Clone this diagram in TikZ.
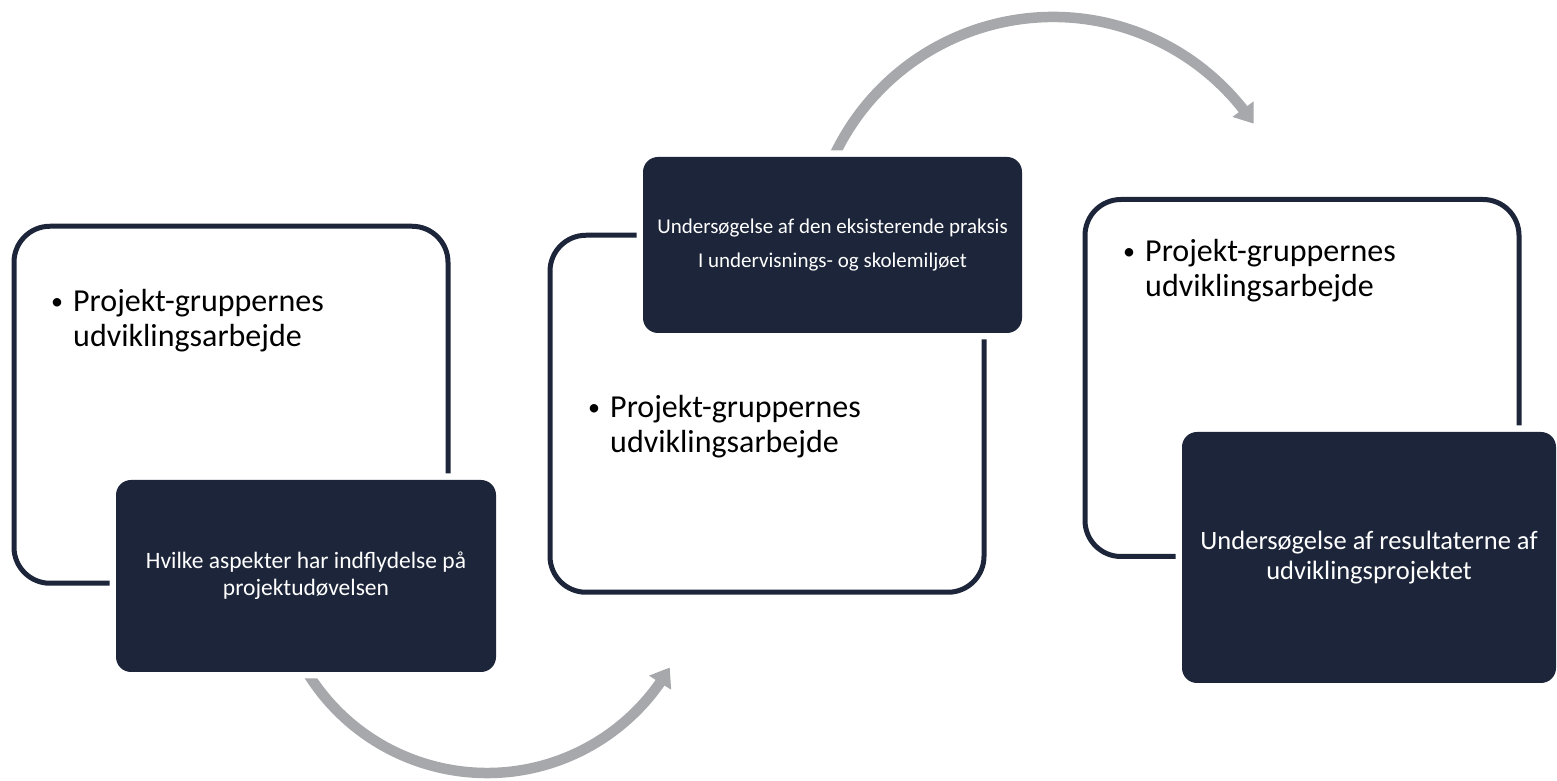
\documentclass[tikz,border=0pt]{standalone}
\usepackage{fontspec}
\setmainfont{Carlito}
\usetikzlibrary{arrows.meta,bending}

\definecolor{navy}{RGB}{28,37,57}
\definecolor{arcgray}{RGB}{166,168,171}

\tikzset{
  outlinebox/.style={draw=navy, line width=5pt, rounded corners=36pt,
    minimum width=434pt, minimum height=357pt, inner sep=0pt},
  darkbox/.style={fill=navy, text=white, rounded corners=15pt, align=center,
    inner sep=0pt, preaction={draw=white, line width=13pt}},
  cyclearrow/.style={draw=arcgray, line width=10.5pt,
    -{Triangle[length=18pt,width=25pt]}},
  bullettext/.style={anchor=base west, inner sep=0pt,
    font=\fontsize{32}{35}\selectfont}
}

\newcommand{\bulletlines}[2]{%
  \begin{tabular}[t]{@{}l@{}}
    \makebox[22pt][l]{\raisebox{2.5pt}{\fontsize{24}{24}\selectfont\textbullet}}#1\\
    \hspace*{22pt}#2
  \end{tabular}}

\begin{document}
\begin{tikzpicture}[x=1pt, y=1pt]
    \useasboundingbox (0,0) rectangle (1557,781);

    % Arrows between the phases
    \coordinate (hubA) at (487,219);
    \coordinate (hubB) at (1053,522);
    \draw[cyclearrow] (hubA) ++(210:211) arc[start angle=210, end angle=330, radius=211];
    \draw[cyclearrow] (hubB) ++(155:242) arc[start angle=155, end angle=34, radius=242];

    % Outlined boxes
    \node[outlinebox] (frameA) at (231,376.25) {};
    \node[outlinebox] (frameB) at (767,367.25) {};
    \node[outlinebox] (frameC) at (1302,403) {};

    \node[bullettext] (workA) at (51,469) {\bulletlines{Projekt-gruppernes}{udviklingsarbejde}};
    \node[bullettext] (workB) at (588,363) {\bulletlines{Projekt-gruppernes}{udviklingsarbejde}};
    \node[bullettext] (workC) at (1123,519) {\bulletlines{Projekt-gruppernes}{udviklingsarbejde}};

    % Dark boxes
    \node[darkbox, minimum width=380pt, minimum height=192pt,
      font=\fontsize{23.5}{27}\selectfont] (aspects) at (306,205)
      {Hvilke aspekter har indflydelse på\\projektudøvelsen};
    \node[darkbox, minimum width=379pt, minimum height=176pt,
      font=\fontsize{21}{34}\selectfont] (practice) at (832.5,536)
      {Undersøgelse af den eksisterende praksis\\I undervisnings- og skolemiljøet};
    \node[darkbox, minimum width=374pt, minimum height=251pt,
      font=\fontsize{26.5}{30}\selectfont] (results) at (1369,223.5)
      {Undersøgelse af resultaterne af\\udviklingsprojektet};
\end{tikzpicture}
\end{document}
